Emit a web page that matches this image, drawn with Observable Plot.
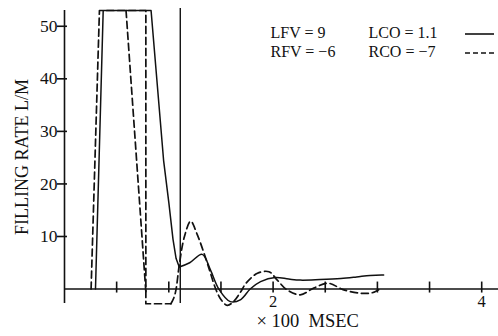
<!DOCTYPE html>
<html><head><meta charset="utf-8">
<script src="https://cdn.jsdelivr.net/npm/d3@7"></script>
<script src="https://cdn.jsdelivr.net/npm/@observablehq/plot@0.6"></script>
<style>body{margin:0;background:#fff}</style>
</head><body><div id="chart"></div>
<script>
// ---- data (x in units of 100 msec, y in L/M) ----
// LCO (solid) : sharp ramp/plateau part, then smooth oscillation
const lcoRampX = [0.297, 0.371, 0.83, 0.95, 1.00, 1.04, 1.07, 1.10];
const lcoRampY = [0, 53, 53, 24.5, 16.5, 9.5, 5.8, 4.2];
const lcoWaveX = [1.10, 1.20, 1.32, 1.40, 1.48, 1.59, 1.69, 1.78, 1.88, 2.02, 2.15, 2.26, 2.45, 2.65, 2.80, 2.93, 3.06];
const lcoWaveY = [4.2, 5.0, 6.6, 3.6, 0, -2.4, -2.0, 0, 1.4, 2.2, 1.9, 1.7, 1.8, 2.0, 2.3, 2.6, 2.65];
// RCO (dashed)
const rcoRampX = [0.255, 0.335, 0.78, 0.78, 1.02];
const rcoRampY = [0, 53, 53, -2.8, -2.8];
const rcoExtraX = [0.59, 0.78];
const rcoExtraY = [53, -0.5];
const rcoWaveX = [1.02, 1.05, 1.07, 1.10, 1.15, 1.21, 1.27, 1.35, 1.40, 1.45, 1.50, 1.56, 1.62, 1.69, 1.74, 1.85, 1.96, 2.04, 2.13, 2.26, 2.39, 2.53, 2.67, 2.84, 2.95, 3.03];
const rcoWaveY = [-2.8, -1.6, 0, 4.5, 10, 12.9, 10.5, 6.1, 3, 0, -2, -3.1, -2.4, -0.5, 1.1, 3.0, 3.3, 1.7, -0.1, -1.1, 0.2, 1.1, -0.1, -0.8, -0.7, 0.1];
const markerX = [1.11];
const yTicks = [10, 20, 30, 40, 50];
const xTicks = [0.5, 1, 1.5, 2, 2.5, 3, 3.5, 4];
const xTickLabels = [2, 4];
const yLabel = "FILLING RATE L/M";
const xLabel = "× 100\u00a0\u00a0MSEC";
const legendCol1 = ["LFV = 9", "RFV = −6"];
const legendCol2 = ["LCO = 1.1", "RCO = −7"];
const legendDash = [null, "5,3"];

const rows = (s, xs, ys) => xs.map((x, i) => ({s, x, y: ys[i]}));
const lcoLinear = rows("L", lcoRampX, lcoRampY);
const rcoLinear = [...rows("R", rcoRampX, rcoRampY), ...rows("R2", rcoExtraX, rcoExtraY)];
const lcoSmooth = rows("L", lcoWaveX, lcoWaveY);
const rcoSmooth = rows("R", rcoWaveX, rcoWaveY);

const font = "'Liberation Serif', 'DejaVu Serif', serif";
const ink = "#111";
const legendRowDy = [22, 41];
const legendText = (text, dx, dy) => Plot.text([text], {frameAnchor: "top-left", textAnchor: "start", lineAnchor: "middle",
  dx, dy, fontSize: 16, fill: ink});
const chart = Plot.plot({
  width: 498, height: 336,
  marginLeft: 64, marginRight: 0, marginTop: 10, marginBottom: 33,
  x: {domain: [0, 4.161], axis: null},
  y: {domain: [-2.75, 53], axis: null},
  style: {fontFamily: font, fontSize: "17px", background: "#fff", color: ink},
  marks: [
    Plot.ruleX([0], {stroke: ink, strokeWidth: 1.6}),
    Plot.ruleY([0], {stroke: ink, strokeWidth: 1.6}),
    Plot.ruleX(markerX, {stroke: ink, strokeWidth: 1.4, insetTop: -2}),
    Plot.ruleY(yTicks, {y: d => d, x1: () => 0, x2: () => 0, insetLeft: -7, insetRight: -3, stroke: ink, strokeWidth: 1.6}),
    Plot.ruleX(xTicks, {x: d => d, y1: () => 0, y2: () => 0, insetTop: 4, insetBottom: 7, stroke: ink, strokeWidth: 1.6}),
    Plot.text(yTicks, {x: () => 0, y: d => d, text: d => String(d), textAnchor: "end", dx: -7, fontSize: 17.5, fill: ink}),
    Plot.text(xTickLabels, {x: d => d, y: () => 0, text: d => String(d), dy: 13, fontSize: 16.5, fill: ink}),
    Plot.text([yLabel], {frameAnchor: "left", textAnchor: "middle", rotate: -90, dx: -42, fontSize: 18, fill: ink}),
    Plot.text([xLabel], {frameAnchor: "bottom-left", textAnchor: "start", dx: 192, dy: 23, fontSize: 18.5, fill: ink}),
    Plot.line(lcoLinear, {x: "x", y: "y", stroke: ink, strokeWidth: 1.5, curve: "linear"}),
    Plot.line(rcoLinear, {x: "x", y: "y", z: "s", stroke: ink, strokeWidth: 1.7, strokeDasharray: "7,4", curve: "linear"}),
    Plot.line(lcoSmooth, {x: "x", y: "y", stroke: ink, strokeWidth: 1.5, curve: "catmull-rom"}),
    Plot.line(rcoSmooth, {x: "x", y: "y", stroke: ink, strokeWidth: 1.7, strokeDasharray: "7,4", curve: "catmull-rom"}),
    ...legendCol1.map((t, i) => legendText(t, 206, legendRowDy[i])),
    ...legendCol2.map((t, i) => legendText(t, 304, legendRowDy[i]))
  ]
});
// legend sample lines (layout only)
const svg = d3.select(chart);
legendDash.forEach((dash, i) => {
  svg.append("line").attr("x1", 465).attr("x2", 494).attr("y1", 34 + i * 19).attr("y2", 34 + i * 19)
    .attr("stroke", ink).attr("stroke-width", 1.6).attr("stroke-dasharray", dash);
});
document.getElementById("chart").append(chart);
</script></body></html>
